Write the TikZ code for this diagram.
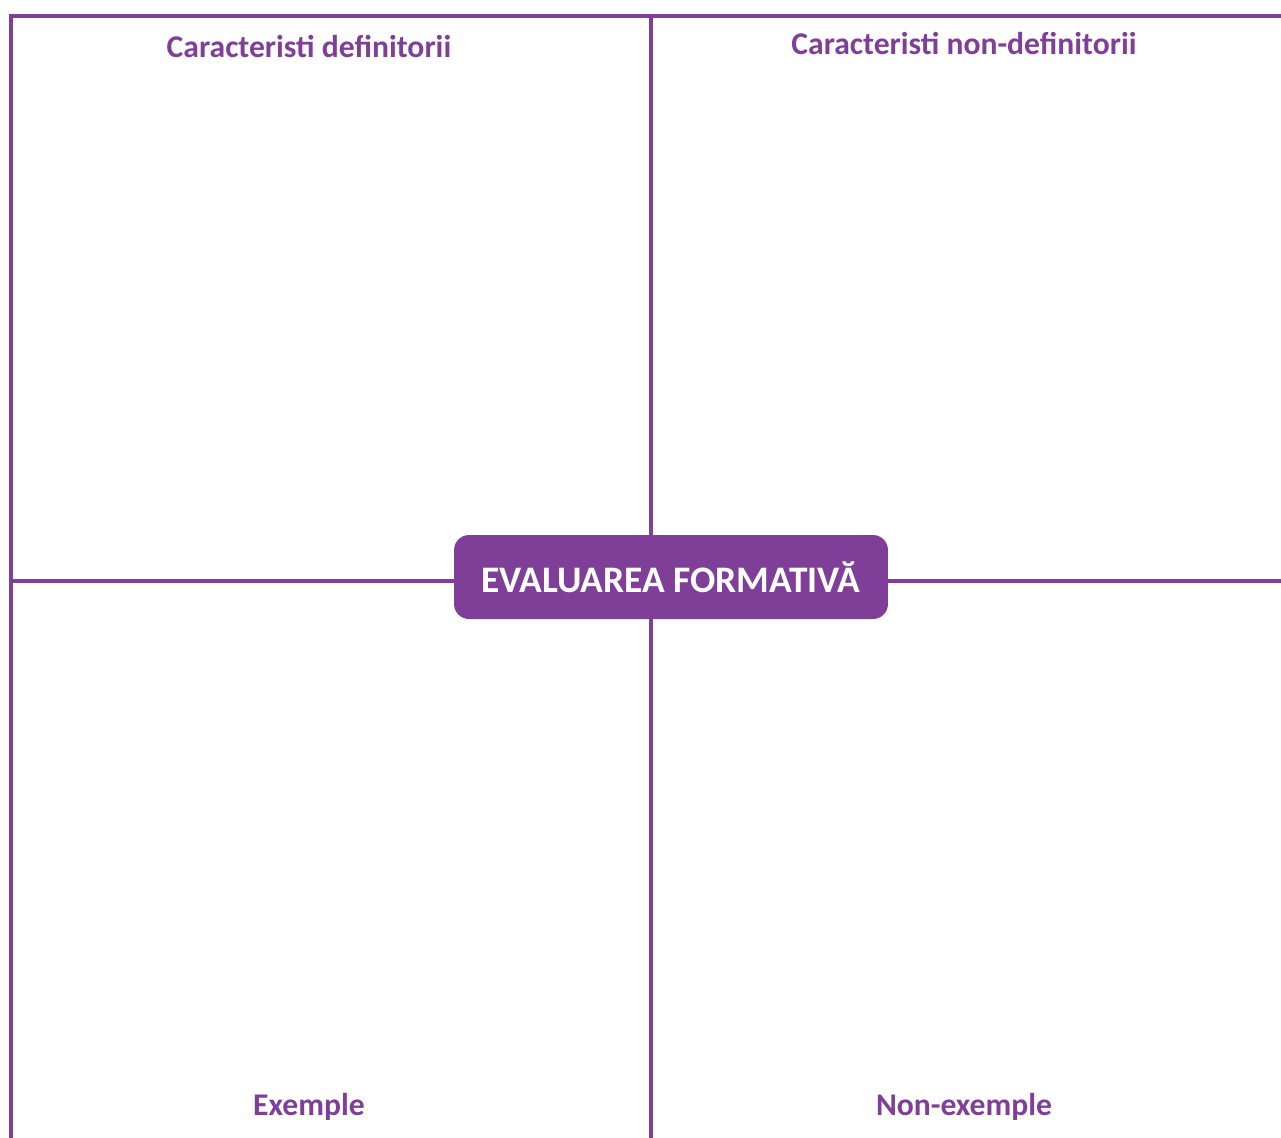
\documentclass[tikz,border=0pt]{standalone}
\usepackage{fontspec}
\setmainfont{Carlito}
\usetikzlibrary{positioning}
\definecolor{frmpurple}{HTML}{7F3F98}
\tikzset {
  x={0.02cm}, y={-0.02cm},
  % the lines of the four quadrants
  frame/.style={draw=frmpurple, line width=2pt},
  % quadrant headings
  header/.style={text=frmpurple, font=\bfseries\fontsize{18}{21}\selectfont},
  % central topic box
  topic/.style={fill=frmpurple, text=white, rounded corners=0.3cm,
    minimum width=8.68cm, minimum height=1.68cm,
    font=\bfseries\fontsize{21.3}{25}\selectfont},
}

\begin{document}
\begin{tikzpicture}
        \useasboundingbox (0,0) rectangle (1281,1137);

        \coordinate (tl) at (11,16);
        \coordinate (tm) at (651,16);
        \coordinate (tr) at (1290,16);
        \coordinate (bl) at (11,1145);
        \coordinate (bm) at (651,1145);
        \coordinate (ml) at (11,581);
        \coordinate (mr) at (1290,581);

        \draw [frame] (bl) -- (tl) -- (tr);
        \draw [frame] (tm) -- (bm);
        \draw [frame] (ml) -- (mr);

        \node[topic] (eval) at (671,577) {EVALUAREA FORMATIVĂ};

        \node[header] (def) at (309,46) {Caracteristi definitorii};
        \node[header] (nondef) at (964,43) {Caracteristi non-definitorii};
        \node[header] (ex) at (309,1107) {Exemple};
        \node[header] (nonex) at (964,1107) {Non-exemple};
      \end{tikzpicture}
\end{document}
